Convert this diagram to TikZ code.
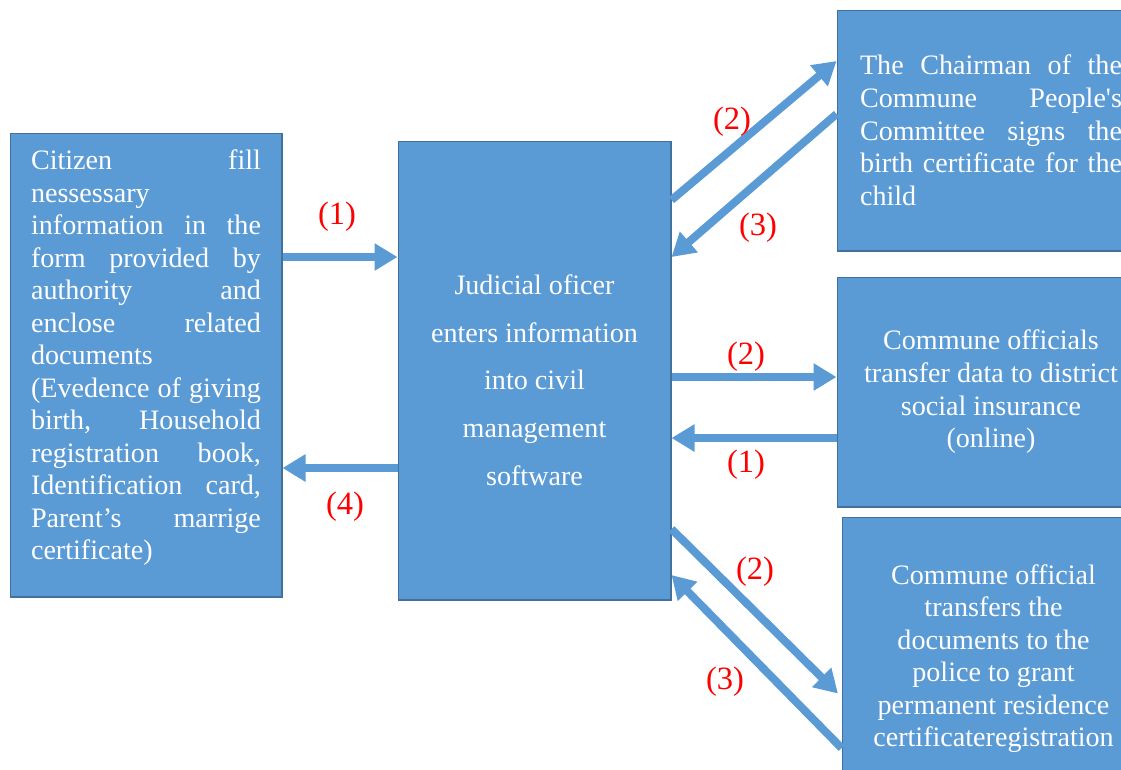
\documentclass[tikz,border=0pt]{standalone}
\usepackage{fontspec}
\setmainfont{Liberation Serif}
\usepackage{tikz}
\usetikzlibrary{calc,shapes,arrows,arrows.meta}
\definecolor{boxblue}{HTML}{5B9BD5}
\definecolor{boxedge}{HTML}{41719C}
\tikzset{
   stepbox/.style={draw=boxedge, fill=boxblue, line width=0.6pt, text=white, inner sep=0pt,
                   font=\fontsize{16}{18.6}\selectfont},
   flow/.style={draw=boxblue, line width=0.16cm, -{Triangle[length=0.46cm,width=0.52cm]}},
   number/.style={text=red, inner sep=0pt, font=\fontsize{18.5}{20}\selectfont}
}

\begin{document}
\begin{tikzpicture}[x=0.02cm,y=-0.02cm]
\useasboundingbox (0,0) rectangle (1121,769);
%
\node[stepbox,minimum width=5.44cm,minimum height=9.28cm,text width=4.6cm,align=justify,
      font=\fontsize{16}{18.5}\selectfont] (citizen) at (146,365)
  {Citizen fill\linebreak nessessary\newline information in the\linebreak form provided by\linebreak
   authority and\linebreak enclose related\linebreak documents\newline (Evedence of giving\linebreak
   birth, Household\linebreak registration book,\linebreak Identification card,\linebreak
   Parent’s marrige\linebreak certificate)\par\vspace{-7pt}\mbox{}};
\node[stepbox,minimum width=5.46cm,minimum height=9.18cm,align=center,font=\fontsize{16}{27.2}\selectfont] (officer) at (534.5,370.5)
  {\mbox{}\\[-5pt]Judicial oficer\\enters information\\into civil\\management\\software};
\node[stepbox,minimum width=6.16cm,minimum height=4.82cm,text width=5.24cm,align=justify] (chairman) at (991,130.5)
  {The Chairman of the\linebreak Commune People\textquotesingle s\linebreak Committee signs the\linebreak
   birth certificate for the\linebreak child};
\node[stepbox,minimum width=6.16cm,minimum height=4.6cm,align=center] (insurance) at (991,392)
  {Commune officials\\transfer data to district\\social insurance\\(online)};
\node[stepbox,minimum width=6.06cm,minimum height=5.66cm,align=center,font=\fontsize{16}{18.5}\selectfont] (police) at (993.5,658.5)
  {Commune official\\transfers the\\documents to the\\police to grant\\permanent residence\\certificateregistration};
%
\draw[flow] (citizen.east |- 0,257) -- (officer.west |- 0,257);
\draw[flow] (officer.west |- 0,468) -- (citizen.east |- 0,468);
\draw[flow] (officer.east |- 0,200) -- (chairman.west |- 0,61);
\draw[flow] (chairman.west |- 0,114) -- (officer.east |- 0,257);
\draw[flow] (officer.east |- 0,377) -- (insurance.west |- 0,377);
\draw[flow] (insurance.west |- 0,438) -- (officer.east |- 0,438);
\draw[flow,shorten >=0.1cm] (officer.east |- 0,529) -- (police.west |- 0,697);
\draw[flow] (police.west |- 0,748) -- (officer.east |- 0,575);
%
\node[number] (n1) at (337,217) {(1)};
\node[number] (n4) at (345,507) {(4)};
\node[number] (c2) at (732,122) {(2)};
\node[number] (c3) at (758,228) {(3)};
\node[number] (i2) at (746,357) {(2)};
\node[number] (i1) at (746,465) {(1)};
\node[number] (p2) at (755,572) {(2)};
\node[number] (p3) at (725,682) {(3)};
\end{tikzpicture}
\end{document}
